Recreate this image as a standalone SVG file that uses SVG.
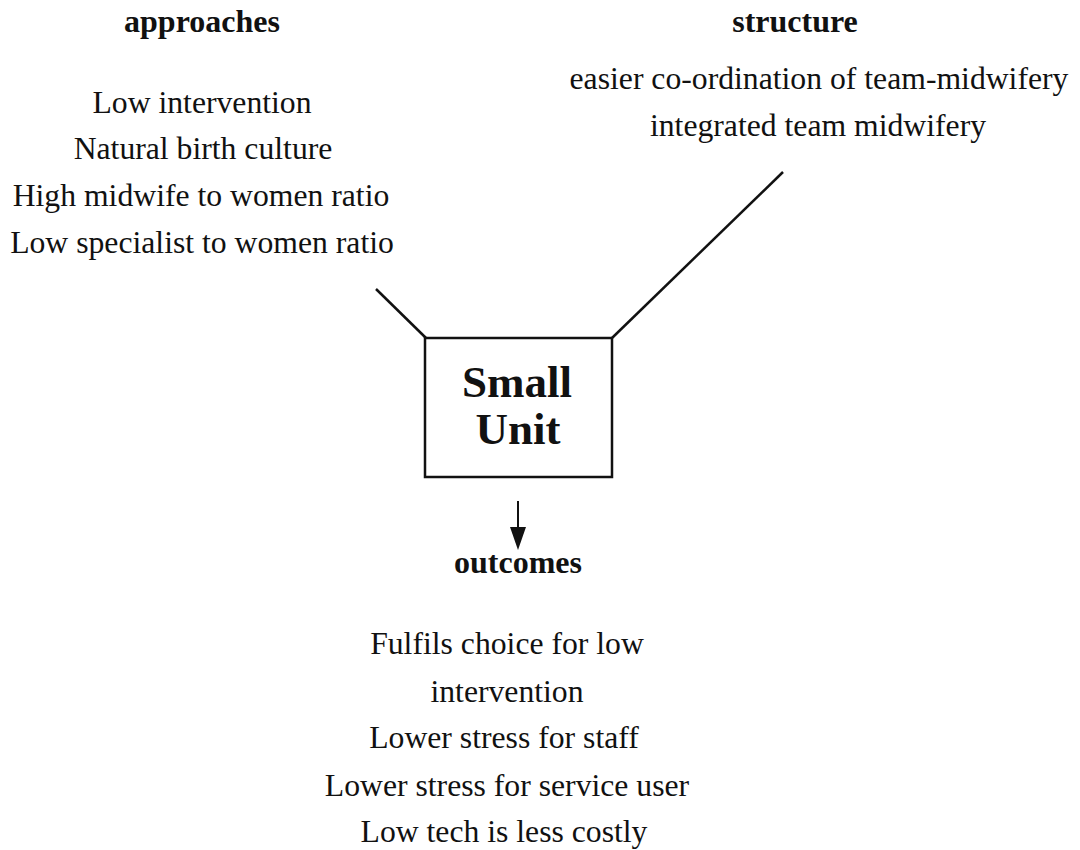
<svg xmlns="http://www.w3.org/2000/svg" width="1080" height="850" viewBox="0 0 1080 850">
<style>
text{font-family:"Liberation Serif",serif;fill:#111;text-anchor:middle}
.h{font-weight:bold;font-size:32px}
.t{font-size:31.7px}
.big{font-weight:bold;font-size:45px}
.ln{stroke:#111;stroke-width:2.5;fill:none}
</style>
<rect width="1080" height="850" fill="#fff"/>
<g id="connectors">
<line class="ln" x1="376" y1="289" x2="426" y2="338"/>
<line class="ln" x1="612" y1="338" x2="783" y2="172"/>
<line x1="518" y1="501" x2="518" y2="528" stroke="#111" stroke-width="2"/>
<path d="M510,527 L526,527 L518,550 Z" fill="#111"/>
</g>
<g id="small-unit">
<rect class="ln" x="425" y="338" width="187" height="139"/>
<text class="big" x="517" y="397">Small</text>
<text class="big" x="518" y="444">Unit</text>
</g>
<g id="approaches">
<text class="h" x="202" y="32">approaches</text>
<text class="t" x="202" y="113">Low intervention</text>
<text class="t" x="203" y="159">Natural birth culture</text>
<text class="t" x="201" y="206">High midwife to women ratio</text>
<text class="t" x="202" y="253">Low specialist to women ratio</text>
</g>
<g id="structure">
<text class="h" x="795" y="32">structure</text>
<text class="t" x="819" y="89">easier co-ordination of team-midwifery</text>
<text class="t" x="818" y="136">integrated team midwifery</text>
</g>
<g id="outcomes">
<text class="h" x="518" y="573">outcomes</text>
<text class="t" x="507" y="654">Fulfils choice for low</text>
<text class="t" x="507" y="702">intervention</text>
<text class="t" x="504" y="748">Lower stress for staff</text>
<text class="t" x="507" y="796">Lower stress for service user</text>
<text class="t" x="504" y="842">Low tech is less costly</text>
</g>
</svg>
